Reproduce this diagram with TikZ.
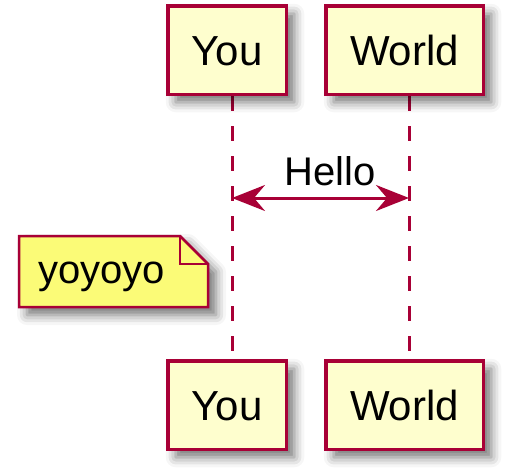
\documentclass[tikz,border=0pt]{standalone}
\usepackage{fontspec}
\setmainfont{Liberation Sans}
\usetikzlibrary{arrows.meta,shadows.blur}
\definecolor{pborder}{HTML}{A80036}
\definecolor{pfill}{HTML}{FEFECE}
\definecolor{nfill}{HTML}{FBFB77}
\tikzset{
  pshadow/.style={blur shadow={shadow xshift=8pt,shadow yshift=-8pt,shadow blur radius=10pt,shadow opacity=55}},
  participant/.style={draw=pborder,fill=pfill,line width=3.5pt,pshadow,
    minimum height=88.5pt,inner sep=0pt,text height=30pt,text depth=0pt,
    font=\fontsize{42}{50}\selectfont},
  lifeline/.style={draw=pborder,line width=3pt,dash pattern=on 15pt off 15pt},
  msg/.style={draw=pborder,line width=3pt,
    {Stealth[length=33pt,width=26pt,inset=11pt]}-{Stealth[length=33pt,width=26pt,inset=11pt]}},
  msgtext/.style={font=\fontsize{40}{48}\selectfont,inner sep=0pt,anchor=base},
  notebody/.style={draw=pborder,fill=nfill,line width=2.5pt,line join=miter,pshadow},
}
\begin{document}
\begin{tikzpicture}[x=1pt,y=-1pt]
\useasboundingbox (0,0) rectangle (508,474);
% lifelines
\coordinate (yt) at (232,96);
\coordinate (yb) at (232,360);
\coordinate (wt) at (409,96);
\coordinate (wb) at (409,360);
\draw[lifeline] (yt) -- (yb);
\draw[lifeline] (wt) -- (wb);
% participants
\node[participant,minimum width=118.5pt] (you1) at (227,50) {You};
\node[participant,minimum width=157.5pt] (world1) at (404.5,50) {World};
\node[participant,minimum width=118.5pt] (you2) at (227,405) {You};
\node[participant,minimum width=157.5pt] (world2) at (404.5,405) {World};
% message
\coordinate (ya) at (232,198);
\coordinate (wa) at (409,198);
\draw[msg] (ya) -- (wa);
\node[msgtext] (hello) at (330,185) {Hello};
% note
\path[notebody] (19,236) -- (180,236) -- (208,264) -- (208,307) -- (19,307) -- cycle;
\draw[draw=pborder,line width=2.5pt,line join=miter] (180,236) -- (180,264) -- (208,264);
\node[msgtext,anchor=base west] (note) at (38,283) {yoyoyo};
\end{tikzpicture}
\end{document}
